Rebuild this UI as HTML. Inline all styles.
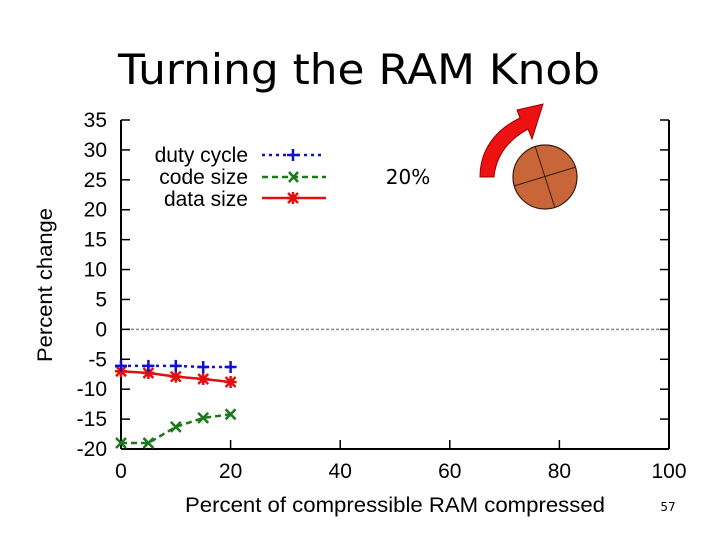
<!DOCTYPE html>
<html><head><meta charset="utf-8"><style>
html,body{margin:0;padding:0;background:#fff;}
svg{display:block;font-family:"Liberation Sans",sans-serif;}
</style></head><body>
<svg id="chart" width="720" height="540" viewBox="0 0 720 540">
<text x="359" y="84" text-anchor="middle" font-family="DejaVu Sans, sans-serif" font-size="42" textLength="482" lengthAdjust="spacingAndGlyphs" fill="#000">Turning the RAM Knob</text>
<g id="axes"></g>
<g id="series"></g>
<g font-size="21">
 <text x="248" y="162" text-anchor="end">duty cycle</text>
 <text x="248" y="184" text-anchor="end">code size</text>
 <text x="248" y="206" text-anchor="end">data size</text>
 <line x1="262" y1="155" x2="324" y2="155" stroke="#1010d0" stroke-width="2.5" stroke-dasharray="3,4"/>
 <path d="M287 155h12M293 149v12" stroke="#1010d0" stroke-width="2.5"/>
 <line x1="262" y1="177" x2="326" y2="177" stroke="#1a7a1a" stroke-width="2.5" stroke-dasharray="6,4"/>
 <path d="M289 172l9 10M298 172l-9 10" stroke="#1a7a1a" stroke-width="2.5"/>
 <line x1="262" y1="198" x2="326" y2="198" stroke="#e01010" stroke-width="2.5"/>
 <path d="M288 193l10 10M298 193l-10 10M287 198h12M293 192v12" stroke="#e01010" stroke-width="2.5"/>
</g>
<text x="408" y="184" text-anchor="middle" font-family="DejaVu Sans, sans-serif" font-size="20">20%</text>
<g>
 <path d="M480 177 C480 150 495 130 520 118 L517 110 L543 104 L532 139 L528 129 C508 140 496 156 494 177 Z" fill="#ee1111" stroke="#900" stroke-width="1"/>
</g>
<g>
 <circle cx="545" cy="177" r="32" fill="#c8663a" stroke="#3a1a0a" stroke-width="1.2"/>
 <line x1="535" y1="146" x2="555" y2="208" stroke="#3a1a0a" stroke-width="1"/>
 <line x1="514" y1="186" x2="576" y2="167" stroke="#3a1a0a" stroke-width="1"/>
</g>
<text x="52" y="285" transform="rotate(-90 52 285)" text-anchor="middle" font-size="21" textLength="154" lengthAdjust="spacingAndGlyphs">Percent change</text>
<text x="395" y="512" text-anchor="middle" font-size="21" textLength="420" lengthAdjust="spacingAndGlyphs">Percent of compressible RAM compressed</text>
<text x="668" y="511" text-anchor="middle" font-family="DejaVu Sans, sans-serif" font-size="12">57</text>
</svg>
<script>
const xCats=[0,5,10,15,20];
const dutyCycle=[-6.1,-6.1,-6.1,-6.3,-6.3];
const codeSize=[-19,-19,-16.3,-14.8,-14.2];
const dataSize=[-7,-7.3,-7.9,-8.3,-8.8];
const yTicks=[35,30,25,20,15,10,5,0,-5,-10,-15,-20];
const xTicks=[0,20,40,60,80,100];
const NS="http://www.w3.org/2000/svg";
const L=121,R=669,T=120,B=449;
function sx(v){return L+(v-0)/(100-0)*(R-L);}
function sy(v){return B-(v+20)/55*(B-T);}
function mk(tag,attrs,parent){const e=document.createElementNS(NS,tag);for(const k in attrs)e.setAttribute(k,attrs[k]);parent.appendChild(e);return e;}
const ax=document.getElementById('axes');
let e;
e=mk('line',{x1:L,y1:T,x2:L,y2:B,stroke:'#000','stroke-width':2},ax);


e=mk('line',{x1:L,y1:B,x2:R,y2:B,stroke:'#000','stroke-width':2},ax);


e=mk('line',{x1:R,y1:T,x2:R,y2:B,stroke:'#000','stroke-width':2},ax);


e=mk('line',{x1:L,y1:sy(0),x2:R,y2:sy(0),stroke:'#888','stroke-width':1.5,'stroke-dasharray':'3,2'},ax);


yTicks.forEach(v=>{
 const y=sy(v);
 let t=mk('line',{x1:L,y1:y,x2:L+9,y2:y,stroke:'#000','stroke-width':1.5},ax);
 
 
 t=mk('line',{x1:R-9,y1:y,x2:R,y2:y,stroke:'#000','stroke-width':1.5},ax);
 
 
 const tx=mk('text',{x:L-14,y:y+7,'text-anchor':'end','font-size':21},ax);
 tx.textContent=v;
 
 
});
xTicks.forEach(v=>{
 const x=sx(v);
 let t=mk('line',{x1:x,y1:B,x2:x,y2:B-9,stroke:'#000','stroke-width':1.5},ax);
 
 
 const tx=mk('text',{x:x,y:B+29,'text-anchor':'middle','font-size':21},ax);
 tx.textContent=v;
 
 
});
const sg=document.getElementById('series');
function drawSeries(vals,color,dash,marker,name){
 const pts=xCats.map((c,i)=>sx(c)+','+sy(vals[i])).join(' ');
 const pl=mk('polyline',{points:pts,fill:'none',stroke:color,'stroke-width':2.5,'stroke-dasharray':dash},sg);
 
 
 xCats.forEach((c,i)=>{
  const x=sx(c),y=sy(vals[i]);
  let d='';
  if(marker==='plus')d=`M${x-6} ${y}h12M${x} ${y-6}v12`;
  if(marker==='x')d=`M${x-5} ${y-5}l10 10M${x+5} ${y-5}l-10 10`;
  if(marker==='star')d=`M${x-5} ${y-5}l10 10M${x+5} ${y-5}l-10 10M${x-6} ${y}h12M${x} ${y-6}v12`;
  const m=mk('path',{d:d,stroke:color,'stroke-width':2.5},sg);
  
  
 });
}
drawSeries(codeSize,'#1a7a1a','6,4','x','code-size');
drawSeries(dataSize,'#e01010','none','star','data-size');
drawSeries(dutyCycle,'#1010d0','3,4','plus','duty-cycle');
</script>
</body></html>
